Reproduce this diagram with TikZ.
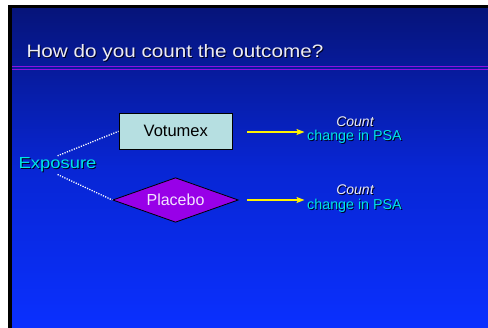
\documentclass[tikz,border=0pt]{standalone}
\usepackage{fontspec}
\setmainfont{Liberation Sans}
\newfontfamily\widefont[FakeStretch=1.15]{Liberation Sans}
\usetikzlibrary{shapes.geometric,arrows.meta,calc}

\definecolor{skytop}{RGB}{6,20,122}
\definecolor{skymid}{RGB}{8,38,212}
\definecolor{skybot}{RGB}{10,48,255}
\definecolor{rulepurple}{RGB}{140,18,224}
\definecolor{boxcyan}{RGB}{182,223,225}
\definecolor{gemviolet}{RGB}{152,0,232}
\definecolor{labelcyan}{RGB}{0,228,232}
\definecolor{softwhite}{RGB}{236,236,244}
\definecolor{lavwhite}{RGB}{244,228,255}
\definecolor{shadowink}{RGB}{0,0,30}

% text with a small drop shadow below and to the right (shadow takes no room)
\newcommand\dropsh[1]{\makebox[0pt][l]{\smash{\kern1pt\raisebox{-1pt}{\color{shadowink}#1}}}#1}

\begin{document}
\begin{tikzpicture}[x=1pt,y=-1pt,
  titletext/.style={anchor=base west,inner sep=0pt,text=softwhite,
    font=\widefont\fontsize{18}{20}\selectfont},
  exptext/.style={inner sep=2pt,text=labelcyan,
    font=\widefont\fontsize{16}{18}\selectfont},
  boxnode/.style={draw=black,line width=0.8pt,fill=boxcyan,
    minimum width=113.7pt,minimum height=36pt,inner sep=0pt,
    font=\fontsize{16.5}{18}\selectfont},
  gemnode/.style={diamond,draw=black,line width=0.8pt,fill=gemviolet,
    minimum width=125.6pt,minimum height=44.6pt,inner sep=0pt,aspect=2.8,
    text=lavwhite,font=\fontsize{16}{18}\selectfont},
  counttext/.style={anchor=base,inner sep=0pt,text=softwhite,
    font=\itshape\fontsize{14}{16}\selectfont},
  psatext/.style={anchor=base,inner sep=0pt,text=labelcyan,
    font=\fontsize{14.3}{16}\selectfont},
  dotlink/.style={draw=white,line width=1.3pt,dash pattern=on 1.2pt off 1.3pt},
  yarrow/.style={draw=yellow,line width=1.5pt,
    -{Stealth[length=8pt,width=6pt,inset=1.5pt]}}
]
\useasboundingbox (0,0) rectangle (488,328);

% page margin, dark frame and slide background
\fill[white] (0,0) rectangle (488,328);
\fill[black] (8,5) rectangle (488,328);
\shade[top color=skytop,bottom color=skybot,middle color=skymid]
  (12,9) rectangle (488,328);

% title and its double rule
\node[titletext] (title) at (26.3,57.7) {\dropsh{How do you count the outcome?}};
\draw[rulepurple,line width=0.9pt] (12,66.4) -- (488,66.4);
\draw[rulepurple,line width=0.9pt] (12,69.8) -- (488,69.8);

% exposure arms
\node[boxnode] (vbox) at (175.8,131.3) {Votumex};
\node[gemnode] (pbo) at (175.5,200) {Placebo};
\node[exptext,anchor=base west] (expo) at (16.5,169) {\dropsh{Exposure}};

\draw[dotlink] (expo.north) -- (vbox.west);
\draw[dotlink] (expo.south) -- (pbo.west);

% outcome labels
\node[counttext] (cnt1) at (355,126.3) {\dropsh{Count}};
\node[psatext] (chg1) at (354.5,141) {\dropsh{change in PSA}};
\node[counttext] (cnt2) at (355,195) {\dropsh{Count}};
\node[psatext] (chg2) at (354.5,209.7) {\dropsh{change in PSA}};

% arrows from each arm to its outcome
\coordinate (vout) at ($(vbox.east)+(0,0.7)$);
\draw[yarrow,shorten <=14.3pt,shorten >=2.5pt]
  (vout) -- (vout -| chg1.west);
\draw[yarrow,shorten <=8.7pt,shorten >=2.5pt]
  (pbo.east) -- (pbo.east -| chg2.west);
\end{tikzpicture}
\end{document}
